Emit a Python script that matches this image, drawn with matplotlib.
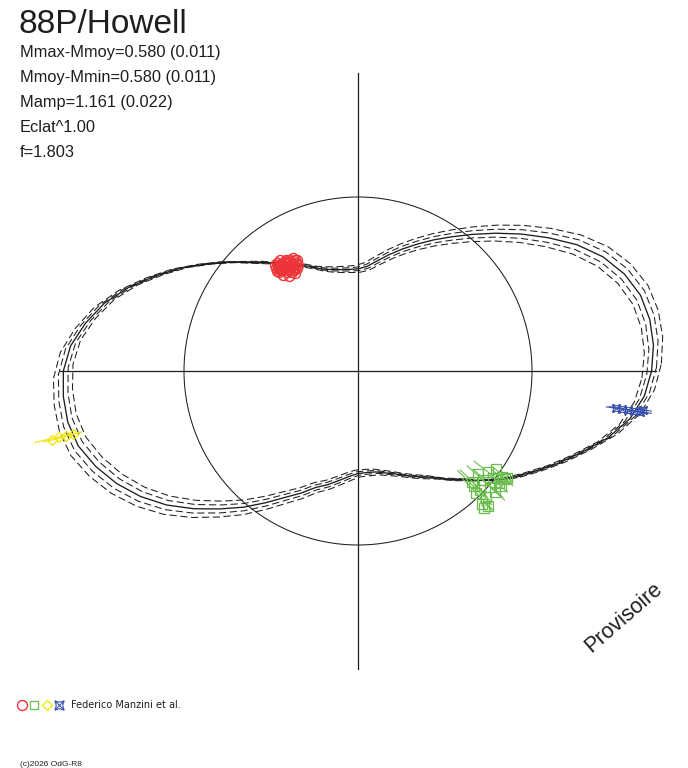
import numpy as np
import matplotlib
matplotlib.use("Agg")
import matplotlib.pyplot as plt
from matplotlib.lines import Line2D
from matplotlib.patches import Circle
from matplotlib.path import Path
from matplotlib.legend_handler import HandlerTuple

plt.rcParams['font.family'] = ['Liberation Sans', 'DejaVu Sans']
plt.rcParams['lines.scale_dashes'] = False

# ---------------- data ----------------
title = "88P/Howell"
stats_lines = ["Mmax-Mmoy=0.580 (0.011)", "Mmoy-Mmin=0.580 (0.011)",
               "Mamp=1.161 (0.022)", "Eclat^1.00", "f=1.803"]
observer = "Federico Manzini et al."
copyright_txt = "(c)2026 OdG-R8"
stamp = "Provisoire"

# fitted light curve: magnitude relative to mean vs rotational phase (deg)
phase_model = list(range(0, 360, 5))
dm_model = [
    -0.568, -0.579, -0.578, -0.564, -0.530, -0.478, -0.405, -0.314, -0.220, -0.123,
    -0.027, 0.065, 0.151, 0.236, 0.318, 0.399, 0.478, 0.548, 0.578, 0.580,
    0.570, 0.548, 0.510, 0.445, 0.381, 0.317, 0.224, 0.135, 0.029, -0.075,
    -0.181, -0.276, -0.368, -0.446, -0.503, -0.549, -0.572, -0.576, -0.572, -0.553,
    -0.513, -0.462, -0.398, -0.320, -0.226, -0.124, -0.023, 0.086, 0.191, 0.278,
    0.368, 0.424, 0.485, 0.538, 0.575, 0.580, 0.575, 0.543, 0.503, 0.445,
    0.385, 0.317, 0.224, 0.135, 0.025, -0.075, -0.162, -0.252, -0.340, -0.430,
    -0.501, -0.545]
# dashed envelopes: (phase shift deg, magnitude offset)
envelope_phase_shift = [-1.4, -0.7, 0.7, 1.4]
envelope_mag_offset = [0.036, 0.018, -0.018, -0.036]

# observations: (phase deg, mag relative to mean, error)
red_phase = [127.02, 127.55, 125.79, 126.94, 124.16, 125.07, 123.56, 124.72, 121.94, 122.84,
             121.33, 122.49, 119.97, 120.87, 119.81, 118.58, 127.84, 125.87, 128.56, 122.91,
             125.14, 122.88, 128.66, 123.70, 125.55, 127.41, 121.96, 125.67, 121.36, 123.79,
             123.72, 127.68, 125.60, 119.73, 128.27, 123.74, 129.05, 121.80, 119.57, 126.57]
red_dm = [0.275, 0.319, 0.301, 0.348, 0.301, 0.341, 0.330, 0.377, 0.330, 0.370,
          0.359, 0.406, 0.366, 0.406, 0.316, 0.343, 0.388, 0.424, 0.348, 0.297,
          0.268, 0.432, 0.305, 0.349, 0.325, 0.300, 0.361, 0.313, 0.389, 0.306,
          0.379, 0.338, 0.386, 0.390, 0.279, 0.410, 0.331, 0.311, 0.340, 0.353]
red_err = [0.02] * len(red_phase)

green_phase = [319.50, 322.14, 324.45, 318.95, 321.61, 323.50, 315.03, 315.71, 318.78, 321.49,
               323.81, 314.15, 315.54, 313.13, 313.82, 312.66, 318.65, 321.02, 315.92, 324.37]
green_dm = [0.102, 0.062, 0.029, 0.050, 0.010, -0.030, 0.069, 0.023, -0.010, -0.035,
            -0.052, 0.025, -0.037, -0.049, -0.080, -0.071, -0.055, -0.057, 0.098, -0.057]
green_err = [0.05, 0.12, 0.03, 0.15, 0.04, 0.08, 0.16, 0.06, 0.10, 0.03,
             0.05, 0.14, 0.04, 0.02, 0.03, 0.02, 0.07, 0.05, 0.12, 0.04]

yellow_phase = [192.71, 192.45, 192.55, 192.46]
yellow_dm = [-0.640, -0.614, -0.588, -0.562]
yellow_err = [0.03, 0.085, 0.03, 0.03]

blue_phase = [351.95, 351.81, 351.78, 351.75, 351.72, 352.22]
blue_dm = [-0.440, -0.464, -0.488, -0.512, -0.536, -0.547]
blue_err = [0.03, 0.04, 0.09, 0.04, 0.03, 0.03]

# ---------------- helpers ----------------
def to_xy(phase, dm):
    r = 10 ** (-0.4 * np.asarray(dm, dtype=float))
    t = np.radians(np.asarray(phase, dtype=float))
    return r * np.cos(t), r * np.sin(t)

W, H = 688, 768
CX, CY, SCALE = 358.0, 371.0, 174.0
AXIS_R = 1.715
INK = '#1e1e1e'

fig = plt.figure(figsize=(W / 100, H / 100), dpi=100)
fig.patch.set_facecolor('white')
ax = fig.add_axes([0, 0, 1, 1])
ax.set_xlim(-CX / SCALE, (W - CX) / SCALE)
ax.set_ylim(-(H - CY) / SCALE, CY / SCALE)
ax.set_aspect('equal')
ax.axis('off')

# cross axes and mean circle
ax.plot([-AXIS_R, AXIS_R], [0, 0], color=INK, lw=0.9, zorder=1)
ax.plot([0, 0], [-AXIS_R, AXIS_R], color=INK, lw=0.9, zorder=1)
ax.add_patch(Circle((0, 0), 1.0, fill=False, ec=INK, lw=0.75, zorder=1))

# model curve and envelopes
ph_closed = np.array(phase_model + [phase_model[0] + 360], dtype=float)
dm_closed = np.array(dm_model + [dm_model[0]], dtype=float)
x, y = to_xy(ph_closed, dm_closed)
ax.plot(x, y, color=INK, lw=0.95, zorder=2)
for dph, dmag in zip(envelope_phase_shift, envelope_mag_offset):
    xe, ye = to_xy(ph_closed + dph, dm_closed + dmag)
    ax.plot(xe, ye, color=INK, lw=0.75, ls=(0, (5.2, 2.6)), zorder=2)

# observations
def errbars(phase, dm, err, color):
    for p, m, e in zip(phase, dm, err):
        xs, ys = to_xy([p, p], [m - e, m + e])
        ax.plot(xs, ys, color=color, lw=0.8, zorder=3)

box_x = Path([(-1, -1), (0, -0.72), (1, -1), (0.72, 0), (1, 1), (0, 0.72), (-1, 1), (-0.72, 0),
              (-1, -1), (-1, -1), (1, 1), (-1, 1), (1, -1)],
             [Path.MOVETO, Path.LINETO, Path.LINETO, Path.LINETO, Path.LINETO, Path.LINETO,
              Path.LINETO, Path.LINETO, Path.LINETO,
              Path.MOVETO, Path.LINETO, Path.MOVETO, Path.LINETO])

RED, GREEN, YELLOW, BLUE = '#ee3339', '#6abd4e', '#f2e600', '#3d56ad'

errbars(green_phase, green_dm, green_err, GREEN)
errbars(yellow_phase, yellow_dm, yellow_err, YELLOW)
errbars(blue_phase, blue_dm, blue_err, BLUE)
errbars(red_phase, red_dm, red_err, RED)

gx, gy = to_xy(green_phase, green_dm)
ax.plot(gx, gy, ls='none', marker='s', ms=7, mfc='none', mec=GREEN, mew=0.9, zorder=4)
yx, yy = to_xy(yellow_phase, yellow_dm)
ax.plot(yx, yy, ls='none', marker='D', ms=5, mfc='none', mec=YELLOW, mew=0.9, zorder=4)
bx, by = to_xy(blue_phase, blue_dm)
ax.plot(bx, by, ls='none', marker=box_x, ms=5.5, mfc='none', mec=BLUE, mew=0.8, zorder=4)
rx, ry = to_xy(red_phase, red_dm)
ax.plot(rx, ry, ls='none', marker='o', ms=7.2, mfc='none', mec=RED, mew=1.0, zorder=5)

# ---------------- texts ----------------
def fx(px):
    return px / W

def fy(py):
    return 1 - py / H

fig.text(fx(18.5), fy(33.3), title, fontsize=24, color=INK, va='baseline', ha='left')
for i, line in enumerate(stats_lines):
    fig.text(fx(19.5), fy(57.3 + 24.9 * i), line, fontsize=11.8, color=INK,
             va='baseline', ha='left')
fig.text(fx(624), fy(618), stamp, fontsize=15.5, color=INK, rotation=41,
         ha='center', va='center', rotation_mode='anchor')
fig.text(fx(19.5), fy(766), copyright_txt, fontsize=6, color=INK, va='baseline', ha='left')

# legend row
h_red = Line2D([], [], ls='none', marker='o', ms=7.2, mfc='none', mec=RED, mew=1.0)
h_green = Line2D([], [], ls='none', marker='s', ms=5.3, mfc='none', mec=GREEN, mew=0.9)
h_yellow = Line2D([], [], ls='none', marker='D', ms=5.5, mfc='none', mec=YELLOW, mew=0.9)
h_blue = Line2D([], [], ls='none', marker=box_x, ms=6.5, mfc='none', mec=BLUE, mew=0.8)
leg = fig.legend([(h_red, h_green, h_yellow, h_blue)], [observer],
                 handler_map={tuple: HandlerTuple(ndivide=None, pad=0.0)},
                 loc='center left', bbox_to_anchor=(fx(16), fy(705)),
                 frameon=False, prop={'family': 'DejaVu Sans', 'size': 7.0},
                 handlelength=5.05, handletextpad=0.62,
                 borderpad=0, borderaxespad=0, numpoints=1)
for t in leg.get_texts():
    t.set_color(INK)

fig.savefig('out.png', dpi=100, facecolor='white')
